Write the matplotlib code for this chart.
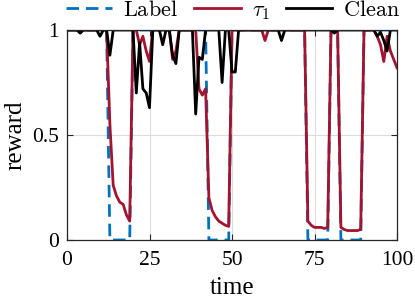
import numpy as np
import matplotlib
matplotlib.use("Agg")
import matplotlib.pyplot as plt

# time axis
t = np.arange(0, 101)

# ground truth label
label = [1, 1, 1, 1, 1, 1, 1, 1, 1, 1,
         1, 1, 1, 0, 0, 0, 0, 0, 0, 0,
         1, 1, 1, 1, 1, 1, 1, 1, 1, 1,
         1, 1, 1, 1, 1, 1, 1, 1, 1, 1,
         1, 1, 1, 0, 0, 0, 0, 0, 0, 0,
         1, 1, 1, 1, 1, 1, 1, 1, 1, 1,
         1, 1, 1, 1, 1, 1, 1, 1, 1, 1,
         1, 1, 1, 0, 0, 0, 0, 0, 0, 0,
         1, 1, 1, 0, 0, 0, 0, 0, 0, 0,
         1, 1, 1, 1, 1, 1, 1, 1, 1, 1,
         1]

# tau_1 reward
tau1 = [1, 1, 1, 1, 1, 1, 1, 1, 1, 1,
        1, 1, 1, 0.55, 0.26, 0.21, 0.18, 0.17, 0.12, 0.09,
        1, 1, 0.93, 0.97, 0.9, 0.85, 1, 1, 1, 1,
        1, 1, 0.86, 0.9, 1, 1, 1, 1, 1, 1,
        0.72, 0.69, 0.72, 0.2, 0.14, 0.11, 0.09, 0.08, 0.07, 0.065,
        1, 1, 1, 1, 1, 1, 1, 1, 1, 1,
        0.95, 1, 1, 1, 1, 1, 1, 1, 1, 1,
        1, 1, 1, 0.09, 0.07, 0.06, 0.06, 0.06, 0.055, 0.06,
        1, 0.99, 1, 0.06, 0.05, 0.045, 0.045, 0.045, 0.045, 0.05,
        1, 1, 1, 1, 0.97, 0.93, 0.85, 0.97, 0.9, 0.86,
        0.82]

# clean reward
clean = [1, 1, 1, 1, 0.985, 1, 1, 1, 1, 1,
         0.97, 1, 1, 0.88, 1, 1, 1, 1, 1, 1,
         1, 0.7, 0.94, 0.72, 0.7, 0.63, 1, 1, 1, 0.93,
         1, 1, 0.88, 0.84, 1, 1, 1, 1, 1, 0.6,
         0.87, 0.86, 1, 1, 1, 1, 1, 0.75, 1, 1,
         0.8, 0.8, 1, 1, 1, 1, 1, 1, 1, 1,
         1, 1, 1, 1, 1, 0.95, 1, 1, 1, 1,
         1, 1, 1, 1, 1, 1, 1, 1, 1, 1,
         1, 0.985, 1, 1, 1, 1, 1, 1, 1, 1,
         1, 1, 1, 1, 0.97, 0.99, 0.95, 0.9, 1, 1,
         1]

xticks = [0, 25, 50, 75, 100]
yticks = [0, 0.5, 1]
yticklabels = ['0', '0.5', '1']

plt.rcParams.update({'font.family': 'Liberation Serif',
                     'mathtext.fontset': 'cm',
                     'font.size': 15.5})

fig = plt.figure(figsize=(4.15, 3.03), dpi=100)
ax = fig.add_axes([67/415, 63/303, 330/415, 210/303])

l1, = ax.plot(t, label, color='#0072BD', lw=2, ls=(0, (4.5, 2.5)))
l2, = ax.plot(t, tau1, color='#A2142F', lw=2)
l3, = ax.plot(t, clean, color='black', lw=2)

ax.set_xlim(0, 100)
ax.set_ylim(0, 1)
ax.set_xticks(xticks)
ax.set_yticks(yticks)
ax.set_yticklabels(yticklabels)
ax.grid(True, color='#dcdcdc', lw=0.8)
ax.set_axisbelow(True)
ax.tick_params(direction='in', top=True, right=True, length=4, width=0.8,
               colors='#262626', labelcolor='black')
ax.tick_params(axis='x', pad=8)
ax.tick_params(axis='y', pad=6)
for s in ax.spines.values():
    s.set_color('#262626')
    s.set_linewidth(0.9)

ax.set_xlabel('time', fontsize=18, labelpad=5)
ax.set_ylabel('reward', fontsize=18, labelpad=4)

fig.legend([l1, l2, l3],
           [r'$\mathrm{Label}$', r'$\tau_1$', r'$\mathrm{Clean}$'],
           loc='center', bbox_to_anchor=(233/415, 1 - 11/303),
           ncol=3, frameon=False, handlelength=2.1, handletextpad=0.5,
           columnspacing=0.7, borderpad=0, fontsize=16)

fig.savefig('out.png', dpi=100)
